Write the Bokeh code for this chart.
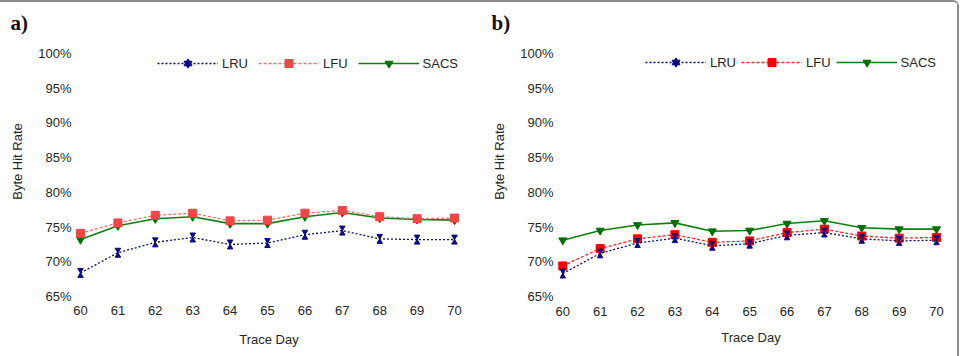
from bokeh.plotting import figure
from bokeh.models import (ColumnDataSource, Range1d, FixedTicker, Legend, LegendItem)
from bokeh.layouts import row
from bokeh.transform import dodge
from bokeh.embed import file_html
from bokeh.resources import INLINE

days = [60, 61, 62, 63, 64, 65, 66, 67, 68, 69, 70]
y_ticks = [65, 70, 75, 80, 85, 90, 95, 100]
y_tick_labels = ["65%", "70%", "75%", "80%", "85%", "90%", "95%", "100%"]
series_names = ["LRU", "LFU", "SACS"]

a_lru = [68.4, 71.3, 72.8, 73.5, 72.5, 72.7, 73.9, 74.5, 73.3, 73.2, 73.2]
a_lfu = [74.1, 75.6, 76.7, 77.0, 75.9, 76.0, 77.0, 77.4, 76.5, 76.2, 76.3]
a_sacs = [73.2, 75.2, 76.2, 76.5, 75.5, 75.5, 76.5, 77.1, 76.3, 76.1, 76.0]

b_lru = [68.3, 71.2, 72.7, 73.4, 72.3, 72.6, 73.8, 74.2, 73.3, 73.0, 73.1]
b_lfu = [69.4, 71.9, 73.3, 73.9, 72.8, 73.0, 74.2, 74.7, 73.7, 73.4, 73.5]
b_sacs = [73.1, 74.5, 75.3, 75.6, 74.4, 74.5, 75.5, 75.9, 74.9, 74.7, 74.7]

FONT = "Liberation Sans"
TXT = "#262626"
FIG_H = 354


def make_panel(tag, lru, lfu, sacs, width, x_start, x_end, y_end, mb_left, mb_right,
               mb_bottom, x_lab_standoff, x_title_standoff, legend_loc, legend_spacing,
               lfu_color, lfu_line, dodge_amt):
    p = figure(width=width, height=FIG_H, output_backend="svg", toolbar_location=None,
               x_range=Range1d(x_start, x_end), y_range=Range1d(65, y_end),
               min_border_left=mb_left, min_border_right=mb_right,
               min_border_top=24, min_border_bottom=mb_bottom, title=tag)
    p.outline_line_color = None
    p.xgrid.visible = False
    p.ygrid.visible = False
    p.background_fill_color = "white"
    p.border_fill_color = "white"

    p.title.text_font = "Liberation Serif"
    p.title.text_font_style = "bold"
    p.title.text_font_size = "21px"
    p.title.text_color = "#111111"
    p.title.align = "left"
    p.title.offset = 10 - mb_left
    p.title.standoff = -17

    for ax in (p.xaxis[0], p.yaxis[0]):
        ax.axis_line_color = None
        ax.major_tick_line_color = None
        ax.minor_tick_line_color = None
        ax.major_tick_out = 0
        ax.major_tick_in = 0
        ax.major_label_text_font = FONT
        ax.major_label_text_font_size = "13px"
        ax.major_label_text_color = TXT
        ax.axis_label_text_font = FONT
        ax.axis_label_text_font_size = "13px"
        ax.axis_label_text_font_style = "normal"
        ax.axis_label_text_color = TXT

    p.xaxis.ticker = FixedTicker(ticks=days)
    p.xaxis.major_label_standoff = x_lab_standoff
    p.xaxis.axis_label = "Trace Day"
    p.xaxis.axis_label_standoff = x_title_standoff

    p.yaxis.ticker = FixedTicker(ticks=y_ticks)
    p.yaxis.major_label_overrides = {t: l for t, l in zip(y_ticks, y_tick_labels)}
    p.yaxis.major_label_standoff = 1
    p.yaxis.axis_label = "Byte Hit Rate"
    p.yaxis.axis_label_standoff = 10

    src = ColumnDataSource(dict(x=days, lru=lru, lfu=lfu, sacs=sacs))

    navy = "#0b0b80"
    green = "#0f7f0f"

    # SACS
    s_line = p.line("x", "sacs", source=src, line_color=green, line_width=1.6)
    s_mark = p.scatter("x", "sacs", source=src, marker="inverted_triangle", size=8,
                       fill_color="#007000", line_color="#007000")
    # LFU
    f_line = p.line("x", "lfu", source=src, line_color=lfu_line, line_width=1.3,
                    line_dash="3 2")
    f_mark = p.scatter("x", "lfu", source=src, marker="square", size=8,
                       fill_color=lfu_color, line_color=lfu_color)
    # LRU (hourglass marker made of two triangles)
    r_line = p.line("x", "lru", source=src, line_color=navy, line_width=1.3,
                    line_dash="2 2")
    r_top = p.scatter("x", dodge("lru", dodge_amt, range=p.y_range), source=src,
                      marker="inverted_triangle", size=5.5, fill_color=navy,
                      line_color=navy, line_width=1)
    r_bot = p.scatter("x", dodge("lru", -dodge_amt, range=p.y_range), source=src,
                      marker="triangle", size=5.5, fill_color=navy,
                      line_color=navy, line_width=1)

    legend = Legend(items=[
        LegendItem(label=series_names[0], renderers=[r_line, r_top, r_bot]),
        LegendItem(label=series_names[1], renderers=[f_line, f_mark]),
        LegendItem(label=series_names[2], renderers=[s_line, s_mark]),
    ], orientation="horizontal", location=legend_loc)
    legend.glyph_width = 61
    legend.glyph_height = 20
    legend.label_height = 20
    legend.label_width = 0
    legend.label_standoff = 4
    legend.spacing = legend_spacing
    legend.padding = 0
    legend.margin = 0
    legend.border_line_color = None
    legend.background_fill_alpha = 0
    legend.label_text_font = FONT
    legend.label_text_font_size = "13px"
    legend.label_text_color = TXT
    legend.click_policy = "none"
    p.add_layout(legend, "center")
    return p


# panel a: frame x from 72 to 465 (37.4 px/day), y 6.94 px per %
pa = make_panel("a)", a_lru, a_lfu, a_sacs, width=481,
                x_start=59.786, x_end=70.294, y_end=103.9,
                mb_left=72, mb_right=16, mb_bottom=60,
                x_lab_standoff=9, x_title_standoff=14,
                legend_loc=(85, 223), legend_spacing=10,
                lfu_color="#f24545", lfu_line="#f07070", dodge_amt=0.42)

# panel b: frame x from 73 to 466, y 7 px per %
pb = make_panel("b)", b_lru, b_lfu, b_sacs, width=476,
                x_start=59.778, x_end=70.294, y_end=103.86,
                mb_left=73, mb_right=10, mb_bottom=58,
                x_lab_standoff=10, x_title_standoff=11,
                legend_loc=(91, 224), legend_spacing=5,
                lfu_color="#ff0000", lfu_line="#ff2020", dodge_amt=0.41)

layout = row(pa, pb, styles={"border-top": "2px solid #8c8c8c",
                             "border-right": "2px solid #8c8c8c",
                             "border-top-right-radius": "6px"})

open("out.html", "w").write(file_html(layout, INLINE))
